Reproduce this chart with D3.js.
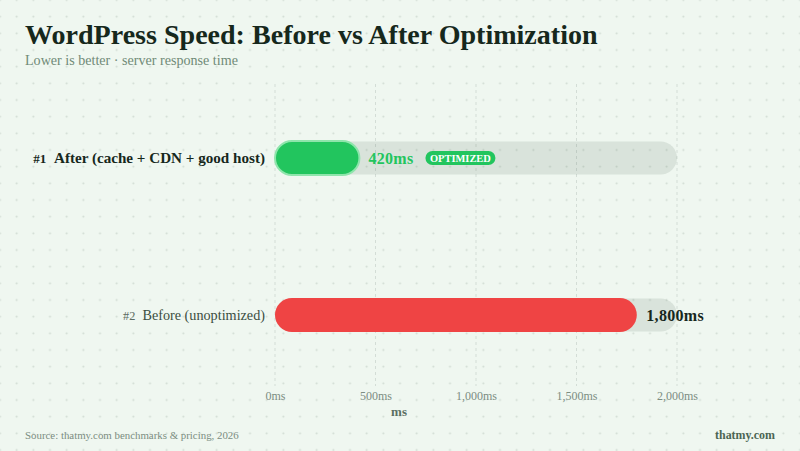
<!DOCTYPE html>
<html><head><meta charset="utf-8">
<script src="https://cdn.jsdelivr.net/npm/d3@7"></script>
<style>
html,body{margin:0;padding:0;background:#eff7f0;}
svg{display:block;}
text{font-family:"Liberation Serif","DejaVu Serif",serif;}
</style></head>
<body>
<svg id="c" width="800" height="451"></svg>
<script>
const categories = ["After (cache + CDN + good host)", "Before (unoptimized)"];
const ranks = ["#1", "#2"];
const values = [420, 1800];
const valueLabels = ["420ms", "1,800ms"];
const tickValues = [0, 500, 1000, 1500, 2000];
const tickLabels = ["0ms", "500ms", "1,000ms", "1,500ms", "2,000ms"];
const badgeText = "OPTIMIZED";
const title = "WordPress Speed: Before vs After Optimization";
const subtitle = "Lower is better · server response time";
const source = "Source: thatmy.com benchmarks & pricing, 2026";
const brand = "thatmy.com";
const axisTitle = "ms";

const svg = d3.select("#c");
const W = 800, H = 451;

const defs = svg.append("defs");
const sp = 50/3;
const pat = defs.append("pattern").attr("id","dots").attr("patternUnits","userSpaceOnUse")
  .attr("width", sp).attr("height", sp).attr("x", -sp/2).attr("y", -sp/2);
pat.append("circle").attr("cx", sp/2).attr("cy", sp/2).attr("r", 1.05).attr("fill", "#d0dbd3");
svg.append("rect").attr("width", W).attr("height", H).attr("fill", "#eff7f0");
svg.append("rect").attr("width", W).attr("height", H).attr("fill", "url(#dots)");

function fit(sel, target){
  const n = sel.node();
  const w = n.getComputedTextLength();
  if (!(w > 0)) return sel;
  const k = target / w;
  const fs = parseFloat(sel.style("font-size"));
  sel.style("font-size", (fs * k) + "px");
  sel.selectAll("tspan").each(function(){
    const s = this.style.fontSize;
    if (s) this.style.fontSize = (parseFloat(s) * k) + "px";
  });
  return sel;
}

const x = d3.scaleLinear().domain([0, 2000]).range([275, 677]);
const y = d3.scalePoint().domain(categories).range([79.5, 393.5]).padding(0.5);
const bh = 34;

svg.append("g").selectAll("line").data(tickValues).join("line")
  .attr("x1", d => x(d)).attr("x2", d => x(d)).attr("y1", 84).attr("y2", 386)
  .attr("stroke", "#d3ddd6").attr("stroke-width", 1).attr("stroke-dasharray", "3,3");

fit(svg.append("text").attr("x", 25).attr("y", 44).text(title)
  .style("font-size","26px").style("font-weight","bold").attr("fill","#16281c"), 573);
fit(svg.append("text").attr("x", 25).attr("y", 65).text(subtitle)
  .style("font-size","13px").attr("fill","#6f8a77"), 213);

svg.append("g").selectAll("rect").data(categories).join("rect")
  .attr("x", x(0)).attr("y", d => y(d) - bh/2 + 0.5).attr("width", x(2000) - x(0)).attr("height", bh - 1)
  .attr("rx", (bh-1)/2).attr("fill", "rgba(30,60,40,0.1)");

const colors = ["#22c55e", "#ef4444"];
svg.append("g").selectAll("rect").data(categories).join("rect")
  .attr("x", x(0)).attr("y", d => y(d) - bh/2).attr("width", (d,i) => x(values[i]) - x(0)).attr("height", bh)
  .attr("rx", bh/2).attr("fill", (d,i) => colors[i])
  .attr("stroke", (d,i) => i === 0 ? "#8fe5ac" : "none").attr("stroke-width", 2);

categories.forEach((c, i) => {
  const t = svg.append("text").attr("x", 265).attr("y", y(c) + 5).attr("text-anchor", "end")
    .style("font-size", "15px");
  if (i === 0) {
    t.attr("fill", "#16281c").style("font-weight", "bold");
    t.append("tspan").text(ranks[i]).style("font-size","13px");
    t.append("tspan").text("\u00a0\u00a0" + c);
    fit(t, 232);
  } else {
    t.attr("fill", "#3a4d40");
    t.append("tspan").text(ranks[i]).style("font-size","13px").attr("fill","#5a6b5f");
    t.append("tspan").text("\u00a0\u00a0" + c);
    fit(t, 142);
  }
});

svg.append("text").attr("x", x(values[0]) + 9).attr("y", y(categories[0]) + 5.5)
  .text(valueLabels[0]).style("font-size","16px").style("font-weight","bold").attr("fill","#22c55e")
  .style("letter-spacing","0.3px");
svg.append("text").attr("x", x(values[1]) + 9.5).attr("y", y(categories[1]) + 5.5)
  .text(valueLabels[1]).style("font-size","16px").style("font-weight","bold").attr("fill","#16281c")
  .style("letter-spacing","0.3px");

const bx = x(values[0]) + 9 + 50 + 7;
svg.append("rect").attr("x", bx).attr("y", y(categories[0]) - 7).attr("width", 70).attr("height", 14)
  .attr("rx", 7).attr("fill", "#22c55e");
const bt = svg.append("text").attr("x", bx + 35).attr("y", y(categories[0]) + 3.8).attr("text-anchor","middle")
  .text(badgeText).style("font-size","10px").style("font-weight","bold").attr("fill","#ffffff");
fit(bt, 61);

const axis = d3.axisBottom(x).tickValues(tickValues).tickFormat((d,i) => tickLabels[i]).tickSize(0).tickPadding(0);
const ag = svg.append("g").attr("transform", "translate(0,391)").call(axis);
ag.select(".domain").remove();
ag.selectAll("text").style("font-family", '"Liberation Serif",serif').style("font-size","12px")
  .attr("fill", "#7c8d82").attr("dy", "0.71em");

svg.append("text").attr("x", 399).attr("y", 416).attr("text-anchor","middle").text(axisTitle)
  .style("font-size","13px").style("font-weight","bold").attr("fill","#5b6f62");

fit(svg.append("text").attr("x", 25).attr("y", 439).text(source)
  .style("font-size","11px").attr("fill","#7b8d81"), 214);
fit(svg.append("text").attr("x", 775).attr("y", 439).attr("text-anchor","end").text(brand)
  .style("font-size","12px").style("font-weight","bold").attr("fill","#4b6553"), 60);
</script>
</body></html>
